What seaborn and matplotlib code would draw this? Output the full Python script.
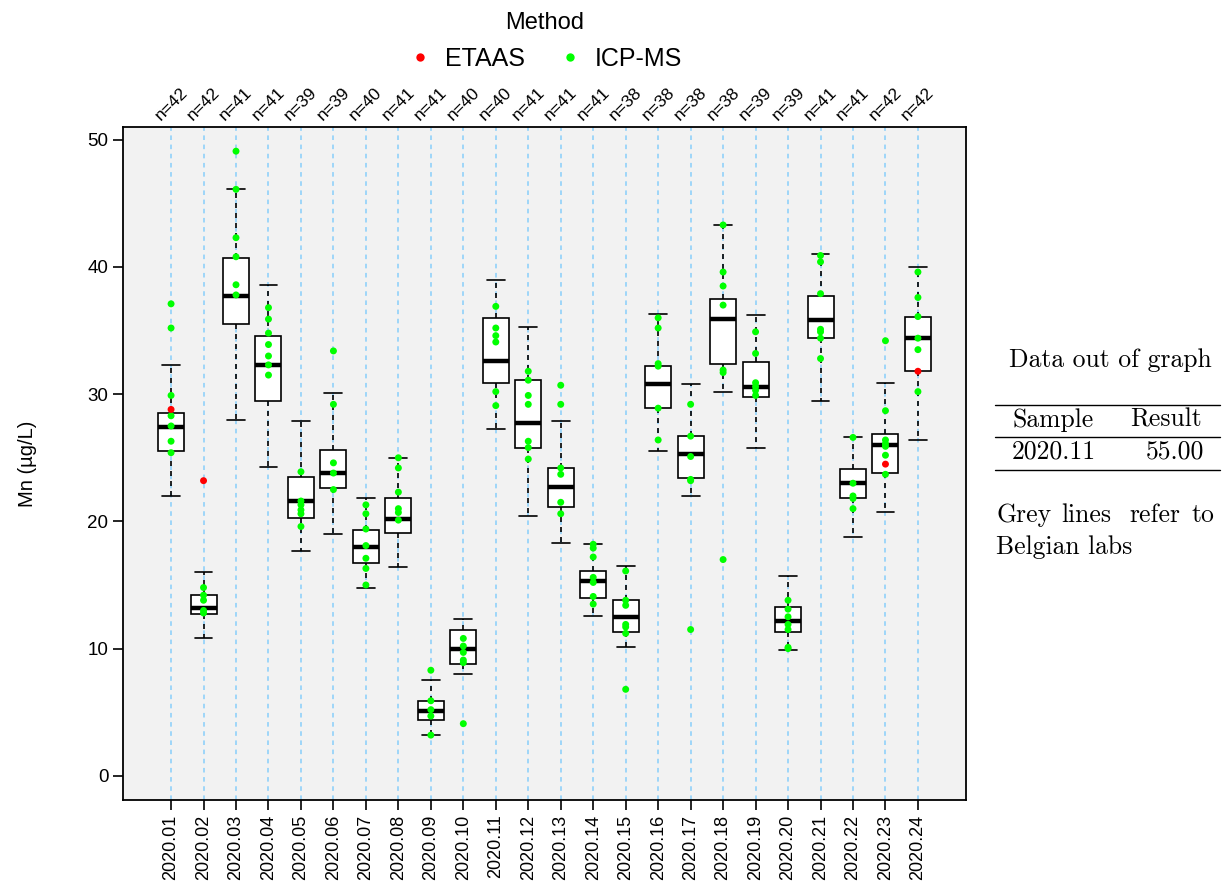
import matplotlib
matplotlib.use("Agg")
import matplotlib.pyplot as plt
import matplotlib.transforms as mtransforms
from matplotlib.lines import Line2D
import seaborn as sns
import pandas as pd

# ---- data ----
samples = ["2020.%02d" % i for i in range(1, 25)]
n_labs = [42, 42, 41, 41, 39, 39, 40, 41, 41, 40, 40, 41,
          41, 41, 38, 38, 38, 38, 39, 39, 41, 41, 42, 42]

# box summary per sample (whole population of labs)
whis_low = [22.0, 10.8, 28.0, 24.3, 17.7, 19.0, 14.8, 16.4, 3.2, 8.0, 27.3, 20.4,
            18.3, 12.6, 10.1, 25.5, 22.0, 30.2, 25.8, 9.9, 29.5, 18.8, 20.7, 26.4]
q1 = [25.5, 12.7, 35.5, 29.5, 20.3, 22.6, 16.7, 19.1, 4.4, 8.8, 30.9, 25.8,
      21.1, 14.0, 11.3, 28.9, 23.4, 32.4, 29.8, 11.3, 34.4, 21.8, 23.8, 31.8]
medians = [27.4, 13.2, 37.7, 32.3, 21.6, 23.8, 18.0, 20.2, 5.1, 10.0, 32.6, 27.7,
           22.7, 15.3, 12.5, 30.8, 25.3, 35.9, 30.6, 12.2, 35.8, 23.0, 26.0, 34.4]
q3 = [28.5, 14.2, 40.7, 34.6, 23.5, 25.6, 19.3, 21.8, 5.9, 11.5, 36.0, 31.1,
      24.2, 16.1, 13.8, 32.2, 26.7, 37.5, 32.5, 13.3, 37.7, 24.1, 26.9, 36.1]
whis_high = [32.3, 16.0, 46.1, 38.6, 27.9, 30.1, 21.8, 25.0, 7.5, 12.3, 39.0, 35.3,
             27.9, 18.2, 16.5, 36.3, 30.8, 43.3, 36.2, 15.7, 41.0, 26.6, 30.9, 40.0]

# individual lab results shown as points
icp_ms = [
    [37.1, 35.2, 29.9, 28.3, 27.5, 26.3, 25.4],
    [14.8, 14.2, 13.8, 13.0, 12.8],
    [49.1, 46.1, 42.3, 40.8, 38.6, 37.8],
    [36.8, 35.9, 34.8, 33.9, 33.0, 32.3, 31.5],
    [23.9, 21.6, 21.3, 20.9, 20.6, 19.6],
    [33.4, 29.2, 24.6, 23.8, 22.5],
    [21.3, 20.6, 19.4, 18.1, 17.1, 16.3, 15.0],
    [25.0, 24.2, 22.3, 21.0, 20.7, 20.1],
    [8.3, 5.9, 5.2, 4.7, 3.2],
    [10.8, 10.2, 9.7, 9.1, 8.9, 4.1],
    [36.9, 35.2, 34.6, 34.1, 30.2, 29.1],
    [31.8, 31.1, 29.9, 29.2, 26.3, 25.8, 24.9],
    [30.7, 29.2, 24.2, 23.7, 21.5, 20.6],
    [18.2, 17.9, 17.2, 15.6, 15.2, 14.1, 13.5],
    [16.1, 13.8, 13.4, 11.9, 11.7, 11.2, 6.8],
    [36.0, 35.2, 32.4, 32.2, 28.9, 26.4],
    [29.2, 26.7, 25.1, 23.3, 23.2, 11.5],
    [43.3, 39.6, 38.5, 37.0, 31.9, 31.7, 17.0],
    [34.9, 33.2, 30.9, 30.6, 30.3, 29.9],
    [13.8, 13.1, 12.5, 11.9, 11.5, 10.1, 10.0],
    [40.9, 40.4, 37.9, 35.1, 34.9, 34.4, 32.8],
    [26.6, 23.0, 22.0, 21.8, 21.0],
    [34.2, 28.7, 26.4, 26.1, 25.9, 25.2, 23.7],
    [39.6, 37.6, 36.1, 34.4, 33.5, 30.2],
]
etaas = {"2020.01": [28.8], "2020.02": [23.2], "2020.23": [24.5], "2020.24": [31.8]}

rows = []
for s, vals in zip(samples, icp_ms):
    for v in vals:
        rows.append((s, v, "ICP-MS"))
for s, vals in etaas.items():
    for v in vals:
        rows.append((s, v, "ETAAS"))
df = pd.DataFrame(rows, columns=["Sample", "Mn", "Method"])

# ---- plot ----
sns.set_style("ticks")
plt.rcParams["font.family"] = ["Liberation Sans", "DejaVu Sans"]
plt.rcParams["text.color"] = "black"
plt.rcParams["axes.labelcolor"] = "black"
plt.rcParams["xtick.color"] = "black"
plt.rcParams["ytick.color"] = "black"

fig = plt.figure(figsize=(12.25, 8.92), dpi=100)
ax = fig.add_axes([123 / 1225, 1 - 800 / 892, (966 - 123) / 1225, (800 - 127) / 892])
ax.set_facecolor("#f2f2f2")

positions = list(range(len(samples)))
for p in positions:
    ax.axvline(p, color="#87cefa", lw=1.1, ls=(0, (3, 3)), zorder=0.5)

stats = [dict(whislo=a, q1=b, med=c, q3=d, whishi=e, fliers=[])
         for a, b, c, d, e in zip(whis_low, q1, medians, q3, whis_high)]
ax.bxp(stats, positions=positions, widths=0.8, capwidths=0.55, patch_artist=True,
       manage_ticks=False,
       boxprops=dict(facecolor="white", edgecolor="black", linewidth=1.2),
       medianprops=dict(color="black", linewidth=3.2),
       whiskerprops=dict(color="black", linewidth=1.2, linestyle=(0, (3, 3))),
       capprops=dict(color="black", linewidth=1.2))

sns.stripplot(data=df, x="Sample", y="Mn", hue="Method", order=samples,
              hue_order=["ETAAS", "ICP-MS"],
              palette={"ETAAS": "#ff0000", "ICP-MS": "#00ff00"},
              jitter=False, size=5, linewidth=0, ax=ax, zorder=5)
for c in ax.collections:
    c.set_zorder(5)

ax.set_xlim(-1.48, 24.48)
ax.set_ylim(-1.9, 51.0)
ax.set_xticks(positions)
ax.set_xticklabels(samples, rotation=90, fontsize=13)
ax.set_yticks([0, 10, 20, 30, 40, 50])
ax.tick_params(axis="y", labelsize=13.5, length=7, width=1.2, direction="out")
ax.tick_params(axis="x", length=7, width=1.2, direction="out")
ax.set_xlabel("")
ax.set_ylabel("Mn (µg/L)", fontsize=14.5, labelpad=36)
for sp in ax.spines.values():
    sp.set_visible(True)
    sp.set_color("black")
    sp.set_linewidth(1.3)

# n= labels above the panel
trans = mtransforms.blended_transform_factory(ax.transData, ax.transAxes)
for p, n in zip(positions, n_labs):
    ax.text(p, 1.034, "n=%d" % n, transform=trans, rotation=45, ha="center",
            va="center", fontsize=12.5)

sns.move_legend(ax, "lower center", bbox_to_anchor=(0.5, 1.05), ncol=2,
                frameon=False, title="Method", fontsize=18, title_fontsize=17,
                markerscale=1.2, handlelength=1.0, handletextpad=0.5,
                columnspacing=1.3)

# side notes
serif = ["cmr10", "DejaVu Serif"]
fs = 18.5
fig.text(1110 / 1225, 1 - 360 / 892, "Data out of graph", family=serif, fontsize=fs,
         ha="center", va="center")
for yy in (405, 437, 470):
    fig.add_artist(Line2D([995 / 1225, 1220 / 1225], [1 - yy / 892, 1 - yy / 892],
                          transform=fig.transFigure, color="black", lw=1))
fig.text(1053 / 1225, 1 - 420 / 892, "Sample", family=serif, fontsize=fs,
         ha="center", va="center")
fig.text(1166 / 1225, 1 - 420 / 892, "Result", family=serif, fontsize=fs,
         ha="center", va="center")
fig.text(1054 / 1225, 1 - 452 / 892, "2020.11", family=serif, fontsize=fs,
         ha="center", va="center")
fig.text(1204 / 1225, 1 - 452 / 892, "55.00", family=serif, fontsize=fs,
         ha="right", va="center")
note_words = ["Grey", "lines", "refer", "to"]
note_x = [996, 1061, 1129, 1192]
for w, xx in zip(note_words, note_x):
    fig.text(xx / 1225, 1 - 515 / 892, w, family=serif, fontsize=fs,
             ha="left", va="center")
fig.text(996 / 1225, 1 - 547 / 892, "Belgian labs", family=serif, fontsize=fs,
         ha="left", va="center")

fig.savefig("out.png", dpi=100)
